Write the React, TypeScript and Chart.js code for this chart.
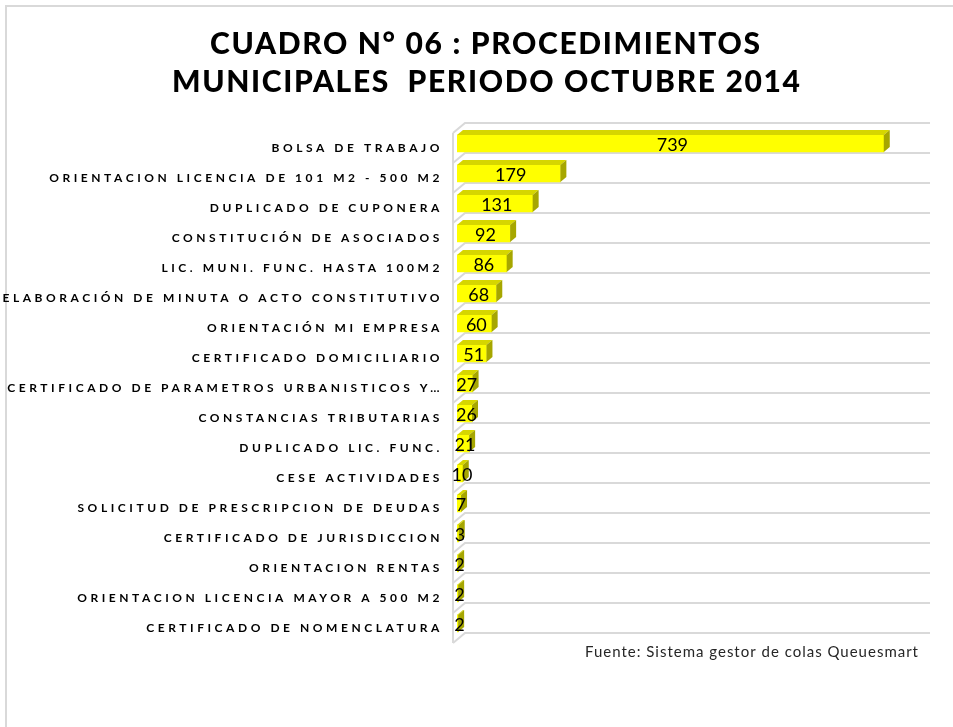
import React, { useEffect, useRef } from 'react';
import { Chart, registerables } from 'chart.js';

Chart.register(...registerables);

const TITLE_LINES = ['CUADRO N° 06 : PROCEDIMIENTOS', 'MUNICIPALES  PERIODO OCTUBRE 2014'];
const SOURCE_NOTE = 'Fuente: Sistema gestor de colas Queuesmart';

const CATEGORIES = [
  'BOLSA DE TRABAJO',
  'ORIENTACION LICENCIA DE 101 M2 - 500 M2',
  'DUPLICADO DE CUPONERA',
  'CONSTITUCIÓN DE ASOCIADOS',
  'LIC. MUNI. FUNC. HASTA 100M2',
  'ELABORACIÓN DE MINUTA O ACTO CONSTITUTIVO',
  'ORIENTACIÓN MI EMPRESA',
  'CERTIFICADO DOMICILIARIO',
  'CERTIFICADO DE PARAMETROS URBANISTICOS Y…',
  'CONSTANCIAS TRIBUTARIAS',
  'DUPLICADO LIC. FUNC.',
  'CESE ACTIVIDADES',
  'SOLICITUD DE PRESCRIPCION DE DEUDAS',
  'CERTIFICADO DE JURISDICCION',
  'ORIENTACION RENTAS',
  'ORIENTACION LICENCIA MAYOR A 500 M2',
  'CERTIFICADO DE NOMENCLATURA',
];

const VALUES = [739, 179, 131, 92, 86, 68, 60, 51, 27, 26, 21, 10, 7, 3, 2, 2, 2];

const X_MAX = 800;

const FONT = 'Lato, "Open Sans", "DejaVu Sans", sans-serif';
const GRID_COLOR = '#D9D9D9';
const BAR_FRONT = '#FFFF00';
const BAR_TOP = '#D6D600';
const BAR_SIDE = '#A6A600';

function measure(font: string, text: string): number {
  const c = document.createElement('canvas');
  const ctx = c.getContext('2d')!;
  ctx.font = font;
  return ctx.measureText(text).width;
}

function drawSpaced(
  ctx: CanvasRenderingContext2D,
  text: string,
  font: string,
  targetWidth: number,
  anchorX: number,
  baseline: number,
  align: 'center' | 'right'
) {
  ctx.save();
  ctx.font = font;
  (ctx as any).letterSpacing = '0px';
  const w = ctx.measureText(text).width;
  const n = text.length;
  let sp = 0;
  if ('letterSpacing' in ctx) {
    sp = (targetWidth - w) / Math.max(1, n - 1);
    (ctx as any).letterSpacing = sp + 'px';
  }
  const total = w + sp * (n - 1);
  const x = align === 'center' ? anchorX - total / 2 : anchorX - total;
  ctx.textAlign = 'left';
  ctx.textBaseline = 'alphabetic';
  ctx.fillText(text, x, baseline);
  ctx.restore();
}

export default function App() {
  const canvasRef = useRef<HTMLCanvasElement | null>(null);

  useEffect(() => {
    const canvas = canvasRef.current;
    if (!canvas) return;

    const tickFont = `bold 12px ${FONT}`;
    const longest = CATEGORIES[5];
    const lw = measure(tickFont, longest);
    const tickSpacing = Math.max(0, (437 - lw) / (longest.length - 1));

    const framePlugin = {
      id: 'frameAndWalls',
      beforeDraw(chart: any) {
        const ctx = chart.ctx as CanvasRenderingContext2D;
        ctx.save();
        ctx.fillStyle = '#FFFFFF';
        ctx.fillRect(0, 0, chart.width, chart.height);
        ctx.strokeStyle = GRID_COLOR;
        ctx.lineWidth = 2;
        ctx.beginPath();
        ctx.moveTo(6, chart.height);
        ctx.lineTo(6, 6);
        ctx.lineTo(chart.width, 6);
        ctx.stroke();
        ctx.restore();
        (ctx as any).letterSpacing = tickSpacing + 'px';
      },
      beforeDatasetsDraw(chart: any) {
        const ctx = chart.ctx as CanvasRenderingContext2D;
        (ctx as any).letterSpacing = '0px';
        const ys = chart.scales.y;
        const { left, right, top, bottom } = chart.chartArea;
        const band = (bottom - top) / CATEGORIES.length;
        const fx = left - 4, fy = 4.5;
        const bx = left + 8, by = -5.5;
        ctx.save();
        ctx.strokeStyle = GRID_COLOR;
        ctx.lineWidth = 2;
        ctx.beginPath();
        for (let k = 0; k <= CATEGORIES.length; k++) {
          const b = k < CATEGORIES.length
            ? ys.getPixelForValue(k) - band / 2
            : ys.getPixelForValue(k - 1) + band / 2;
          ctx.moveTo(fx, b + fy);
          ctx.lineTo(bx, b + by);
          ctx.lineTo(right + 11, b + by);
        }
        ctx.moveTo(fx, top + fy);
        ctx.lineTo(fx, bottom + fy);
        ctx.stroke();
        ctx.restore();
      },
      afterDatasetsDraw(chart: any) {
        const ctx = chart.ctx as CanvasRenderingContext2D;
        const meta = chart.getDatasetMeta(0);
        const dx = 6, dy = -5;
        ctx.save();
        meta.data.forEach((el: any) => {
          const p = el.getProps(['x', 'y', 'base', 'height'], true);
          const x0 = Math.min(p.base, p.x);
          const x1 = Math.max(p.base, p.x);
          const t = p.y - p.height / 2;
          const b = p.y + p.height / 2;
          ctx.fillStyle = BAR_TOP;
          ctx.beginPath();
          ctx.moveTo(x0, t);
          ctx.lineTo(x0 + dx, t + dy);
          ctx.lineTo(x1 + dx, t + dy);
          ctx.lineTo(x1, t);
          ctx.closePath();
          ctx.fill();
          ctx.fillStyle = BAR_SIDE;
          ctx.beginPath();
          ctx.moveTo(x1, t);
          ctx.lineTo(x1 + dx, t + dy);
          ctx.lineTo(x1 + dx, b + dy);
          ctx.lineTo(x1, b);
          ctx.closePath();
          ctx.fill();
        });
        ctx.fillStyle = '#000000';
        ctx.font = `18px ${FONT}`;
        ctx.textAlign = 'center';
        ctx.textBaseline = 'middle';
        meta.data.forEach((el: any, i: number) => {
          const p = el.getProps(['x', 'y', 'base'], true);
          ctx.fillText(String(VALUES[i]), (p.base + p.x) / 2 + 2, p.y + 1.5);
        });
        ctx.restore();
      },
      afterDraw(chart: any) {
        const ctx = chart.ctx as CanvasRenderingContext2D;
        ctx.save();
        ctx.fillStyle = '#000000';
        drawSpaced(ctx, TITLE_LINES[0], `900 30px ${FONT}`, 550, 485, 53.5, 'center');
        drawSpaced(ctx, TITLE_LINES[1], `900 30px ${FONT}`, 628, 486, 91.7, 'center');
        ctx.fillStyle = '#262626';
        drawSpaced(ctx, SOURCE_NOTE, `15px ${FONT}`, 333, 918, 657, 'right');
        ctx.restore();
      },
    };

    const chart = new Chart(canvas, {
      type: 'bar',
      data: {
        labels: CATEGORIES,
        datasets: [
          {
            data: VALUES,
            backgroundColor: BAR_FRONT,
            borderWidth: 0,
            barThickness: 17,
          },
        ],
      },
      options: {
        indexAxis: 'y',
        responsive: false,
        animation: false,
        layout: { padding: { top: 128.5, right: 34, bottom: 88.5, left: 0 } },
        plugins: {
          legend: { display: false },
          tooltip: { enabled: false },
          title: { display: false },
        },
        scales: {
          x: { display: false, min: 0, max: X_MAX },
          y: {
            grid: { display: false, drawTicks: false },
            border: { display: false },
            ticks: {
              autoSkip: false,
              padding: 14,
              labelOffset: 5,
              color: '#000000',
              font: { family: FONT, size: 12, weight: 'bold' },
            },
            afterFit: (s: any) => {
              s.width = 457;
            },
          },
        },
      },
      plugins: [framePlugin],
    } as any);

    return () => chart.destroy();
  }, []);

  return (
    <div style={{ position: 'absolute', left: 0, top: 0, width: 953, height: 727 }}>
      <canvas ref={canvasRef} width={953} height={727} style={{ width: 953, height: 727, display: 'block' }} />
    </div>
  );
}
